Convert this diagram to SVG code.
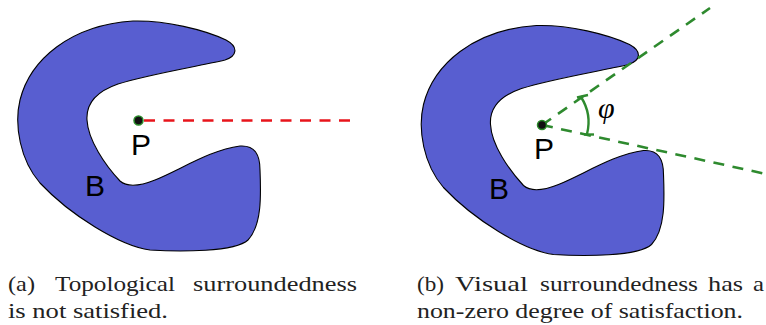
<svg xmlns="http://www.w3.org/2000/svg" width="766" height="325" viewBox="0 0 766 325">
<defs>
<style>
.blob{fill:#585ed0;stroke:#000;stroke-width:1.1}
.lbl{font-family:"Liberation Sans","DejaVu Sans",sans-serif;font-size:30px;fill:#000}
.cap{font-family:"Liberation Serif","DejaVu Serif",serif;font-size:22px;fill:#222}
.pt{fill:#111;stroke:#2a8a2a;stroke-width:1.5}
.red{stroke:#e8141b;stroke-width:2.6;stroke-dasharray:11 8.5;fill:none}
.grn{stroke:#2e8a2e;stroke-width:2.6;stroke-dasharray:11 8.5;fill:none}
.arc{stroke:#2e8a2e;stroke-width:2.4;fill:none}
.phi{font-family:"Liberation Serif","DejaVu Serif",serif;font-style:italic;font-size:30px;fill:#000}
</style>
<path id="shape" d="M 133,21 C 165,20 205,30 226,40 C 239,47 237,56 225,60 C 195,67 150,74 118,84 C 95,92 86,105 87,120 C 88,140 105,165 120,181 C 128,188 140,186 155,180 C 180,170 210,150 240,146 C 255,145 260,155 260,170 C 261,195 262,225 248,240 C 235,252 180,252 150,250 C 120,246 70,215 40,183 C 20,160 14,125 20,100 C 30,60 70,25 133,21 Z"/>
</defs>
<g id="panel-a">
<g id="blob-a"><use href="#shape" class="blob"/></g>
<g id="connectors-a"><line class="red" x1="144" y1="120.5" x2="350" y2="120.5"/></g>
<g id="point-a"><circle class="pt" cx="138.5" cy="120.5" r="4.5"/><text class="lbl" x="131" y="155">P</text></g>
<g id="label-a"><text class="lbl" x="85" y="196">B</text></g>
<g id="caption-a">
<text class="cap" x="8" y="291" textLength="27" lengthAdjust="spacingAndGlyphs">(a)</text>
<text class="cap" x="55" y="291" textLength="120" lengthAdjust="spacingAndGlyphs">Topological</text>
<text class="cap" x="193" y="291" textLength="164" lengthAdjust="spacingAndGlyphs">surroundedness</text>
<text class="cap" x="8" y="318" textLength="160" lengthAdjust="spacingAndGlyphs">is not satisfied.</text>
</g>
</g>
<g id="panel-b">
<g id="blob-b" transform="translate(403.5,4.5)"><use href="#shape" class="blob"/></g>
<g id="connectors-b">
<line class="grn" x1="542" y1="125" x2="710" y2="8"/>
<line class="grn" x1="542" y1="125" x2="766" y2="174"/>
<path class="arc" d="M 581,97 A 47 47 0 0 1 587,134"/>
<line class="arc" x1="577" y1="97.5" x2="588" y2="95"/>
<line class="arc" x1="584" y1="134.5" x2="594" y2="134.5"/>
</g>
<g id="point-b"><circle class="pt" cx="542" cy="125" r="4.5"/><text class="lbl" x="534" y="159">P</text></g>
<g id="label-b"><text class="lbl" x="489" y="199">B</text></g>
<g id="phi"><text class="phi" x="598" y="118">φ</text></g>
<g id="caption-b">
<text class="cap" x="417" y="291" textLength="27" lengthAdjust="spacingAndGlyphs">(b)</text>
<text class="cap" x="455" y="291" textLength="73" lengthAdjust="spacingAndGlyphs">Visual</text>
<text class="cap" x="540" y="291" textLength="158" lengthAdjust="spacingAndGlyphs">surroundedness</text>
<text class="cap" x="708" y="291" textLength="35" lengthAdjust="spacingAndGlyphs">has</text>
<text class="cap" x="753" y="291" textLength="11" lengthAdjust="spacingAndGlyphs">a</text>
<text class="cap" x="417" y="318" textLength="326" lengthAdjust="spacingAndGlyphs">non-zero degree of satisfaction.</text>
</g>
</g>
</svg>
